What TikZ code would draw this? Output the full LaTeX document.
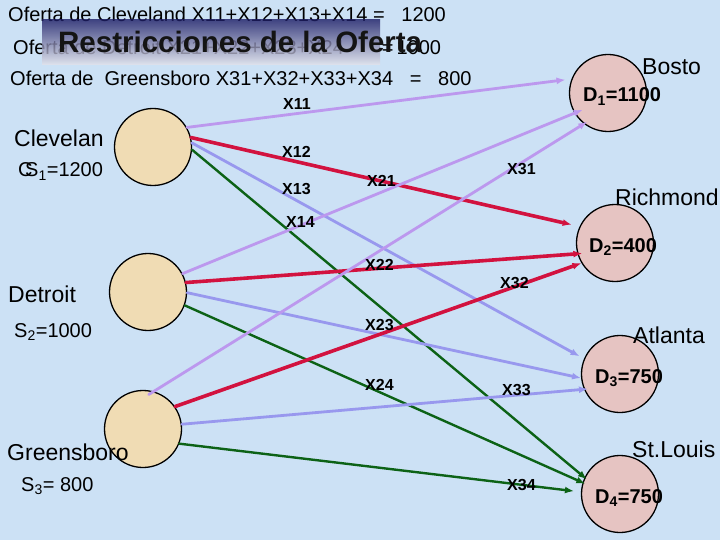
\documentclass[tikz,border=0pt]{standalone}
\usepackage{fontspec}
\setmainfont{Liberation Sans}
\usepackage{xcolor}
\usepackage{tikz}
\usetikzlibrary{arrows.meta}
\definecolor{sky}{HTML}{CCE1F5}
\definecolor{sand}{HTML}{F0DCB4}
\definecolor{rose}{HTML}{E6C4C2}
\definecolor{lilac}{HTML}{BC98EE}
\definecolor{crim}{HTML}{D2123F}
\definecolor{peri}{HTML}{9898EE}
\definecolor{leaf}{HTML}{0C6216}
\definecolor{navy}{HTML}{1E1E66}
\definecolor{fog}{HTML}{E4E4EC}
\tikzset{
  src/.style={circle, draw=black, line width=1.3pt, fill=sand, minimum size=77pt, inner sep=0pt},
  dst/.style={src, fill=rose},
  conn/.style={line cap=round, -{Latex[length=9pt,width=7pt]}},
  toB/.style={conn, draw=lilac, line width=2.8pt},
  toR/.style={conn, draw=crim, line width=3.6pt},
  toA/.style={conn, draw=peri, line width=2.8pt},
  toS/.style={conn, draw=leaf, line width=2.4pt},
  city/.style={font=\fontsize{23}{23}\selectfont, anchor=base west, inner sep=0pt},
  qty/.style={font=\fontsize{20}{20}\selectfont, anchor=base west, inner sep=0pt},
  dlab/.style={font=\fontsize{20}{20}\selectfont\bfseries, anchor=base west, inner sep=0pt},
  xlab/.style={font=\fontsize{16}{16}\selectfont\bfseries, anchor=base west, inner sep=0pt},
  ttl/.style={font=\fontsize{29.5}{29.5}\selectfont\bfseries, text=black!92, anchor=base west, inner sep=0pt}
}
\begin{document}
\begin{tikzpicture}[x=1pt,y=-1pt]
  \fill[sky] (0,0) rectangle (720,540);
  \useasboundingbox (0,0) rectangle (720,540);

  % supply constraints
  \node[qty] (of1) at (8,22) {Oferta de Cleveland X11+X12+X13+X14 =~~~1200};
  \node[qty] (of2) at (13,55) {Oferta de Detroit X21+X22+X23+X24\hspace{38pt}=\hspace{3pt}1000};
  \node[qty] (of3) at (10,86) {Oferta de~~Greensboro X31+X32+X33+X34~~~=~~~800};
  \shade[top color=navy, bottom color=fog, opacity=0.8] (42,20) rectangle (380,65);
  \node[ttl] (head) at (58,53) {Restricciones de la Oferta};

  % sources and destinations
  \node[src] (cle) at (153,147) {};
  \node[src] (det) at (148,292) {};
  \node[src] (gre) at (143,429) {};
  \node[dst] (bos) at (608,93) {};
  \node[dst] (ric) at (615,243) {};
  \node[dst] (atl) at (620,374) {};
  \node[dst] (stl) at (620,494) {};

  % Cleveland
  \draw[toB, shorten >=6pt] (cle.30) -- (bos.159);
  \draw[toR, shorten >=8pt] (cle.14) -- (ric.155);
  \draw[toA, shorten >=5pt] (cle.6) -- (atl.157);
  \draw[toS, shorten >=-3pt] (cle.-4) -- (stl.155);
  % Detroit
  \draw[toB, shorten >=-9pt] (det.28) -- (bos.211);
  \draw[toR, shorten >=-5pt] (det.14) -- (ric.196);
  \draw[toA] (det.-1) -- (atl.186);
  \draw[toS, shorten >=-3pt] (det.-20) -- (stl.163);
  % Greensboro
  \draw[toB, shorten <=-6pt, shorten >=-4pt] (gre.74) -- (bos.232);
  \draw[toR] (gre.35) -- (ric.211);
  \draw[toA, shorten >=-4pt] (gre.7) -- (atl.203);
  \draw[toS, shorten >=7pt] (gre.-22) -- (stl.177);

  \node[xlab] (x11) at (283,110) {X11};
  \node[xlab] (x12) at (282,158) {X12};
  \node[xlab] (x13) at (282,195) {X13};
  \node[xlab] (x14) at (286,228) {X14};
  \node[xlab] (x21) at (367,187) {X21};
  \node[xlab] (x22) at (365,270) {X22};
  \node[xlab] (x23) at (365,330) {X23};
  \node[xlab] (x24) at (365,390) {X24};
  \node[xlab] (x31) at (507,175) {X31};
  \node[xlab] (x32) at (500,288) {X32};
  \node[xlab] (x33) at (502,395) {X33};
  \node[xlab] (x34) at (507,490) {X34};

  \node[city] (ncle) at (14,147) {Clevelan};
  \node[qty] (ccut) at (18,177) {C};
  \node[qty] (scle) at (25,177) {S\textsubscript{1}=1200};
  \node[city] (ndet) at (8,302) {Detroit};
  \node[qty] (sdet) at (14,337) {S\textsubscript{2}=1000};
  \node[city] (ngre) at (7,460) {Greensboro};
  \node[qty] (sgre) at (21,491) {S\textsubscript{3}= 800};

  \node[city] (nbos) at (642,75) {Bosto};
  \node[city] (nric) at (615,206) {Richmond};
  \node[city] (natl) at (633,343) {Atlanta};
  \node[city] (nstl) at (632,457) {St.Louis};
  \node[dlab] (dbos) at (583,102) {D\textsubscript{1}=1100};
  \node[dlab] (dric) at (589,252) {D\textsubscript{2}=400};
  \node[dlab] (datl) at (595,383) {D\textsubscript{3}=750};
  \node[dlab] (dstl) at (595,503) {D\textsubscript{4}=750};
\end{tikzpicture}
\end{document}
